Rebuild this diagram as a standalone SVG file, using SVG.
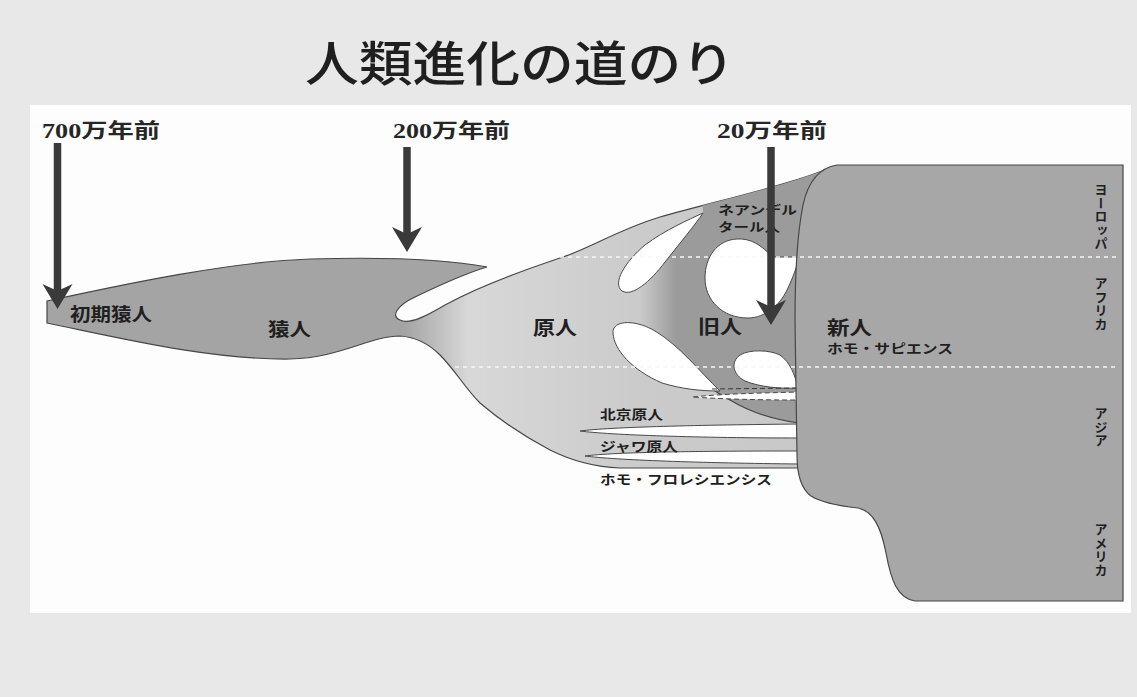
<svg xmlns="http://www.w3.org/2000/svg" xmlns:xlink="http://www.w3.org/1999/xlink" width="1137" height="697" viewBox="0 0 1137 697">
<style>
.edge{stroke:#474747;stroke-width:1.2}
.hole{fill:#ffffff;stroke:#4a4a4a;stroke-width:1}
.lbl{font-family:"Noto Sans CJK JP","Noto Sans",sans-serif;font-weight:700;fill:#1f1f1f}
.era{font-family:"Liberation Serif","Noto Sans CJK JP",serif;font-weight:700;fill:#262626;font-size:20px}
.dot{stroke:#f6f6f6;stroke-width:1.6;stroke-dasharray:4 4;fill:none}
.vert{writing-mode:vertical-rl;font-size:13px;letter-spacing:0.5px}
.shaft{stroke:#3a3a3a;stroke-width:7.5;fill:none;marker-end:url(#ah)}
</style>
<defs>
<linearGradient id="gBody" gradientUnits="userSpaceOnUse" x1="45" y1="0" x2="845" y2="0">
<stop offset="0" stop-color="#a4a4a4"/>
<stop offset="0.45" stop-color="#a4a4a4"/>
<stop offset="0.53" stop-color="#d8d8d8"/>
<stop offset="0.74" stop-color="#cbcbcb"/>
<stop offset="1" stop-color="#c8c8c8"/>
</linearGradient>
<linearGradient id="gDark" gradientUnits="userSpaceOnUse" x1="640" y1="0" x2="676" y2="0">
<stop offset="0" stop-color="#cbcbcb"/>
<stop offset="1" stop-color="#9b9b9b"/>
</linearGradient>
<path id="bodyShape" d="M47,301 C130,283 230,262 310,259 C380,257 440,258 487,267 C470,272 440,285 415,297 C398,305 390,316 400,320 C410,325 428,315 445,305 C478,287 530,268 563,257 C590,248 620,229 660,217 C720,200 790,185 835,166 L845,166 L845,468 L620,468 C595,467 570,460 550,450 C525,437 500,420 480,403 C465,388 455,370 440,355 C428,343 415,337 400,336 C370,336 340,358 290,359 C210,360 120,338 47,323 Z"/>
<clipPath id="bodyClip"><use xlink:href="#bodyShape"/></clipPath>
<marker id="ah" markerUnits="userSpaceOnUse" markerWidth="26" markerHeight="32" viewBox="0 -16 26 32" refX="7" refY="0" orient="auto">
<path d="M0,-15 L25,0 L0,15 L7,0 Z" fill="#3a3a3a"/>
</marker>
</defs>

<rect x="0" y="0" width="1137" height="697" fill="#e8e8e8"/>
<rect x="30" y="105" width="1101" height="508" fill="#fdfdfd"/>

<text x="305" y="81" font-family="Noto Sans CJK JP, sans-serif" font-weight="500" font-size="48" fill="#1f1f1f" textLength="430" lengthAdjust="spacingAndGlyphs">人類進化の道のり</text>

<g id="ape-erectus">
<use xlink:href="#bodyShape" fill="url(#gBody)"/>
<path clip-path="url(#bodyClip)" fill="#a4a4a4" d="M370,240 L495,240 L495,268 L487,267 C470,272 440,285 415,297 C404,302 396,308 394,314 L370,316 Z"/>
<use xlink:href="#bodyShape" fill="none" class="edge"/>
</g>

<g id="neanderthal">
<path clip-path="url(#bodyClip)" fill="url(#gDark)" d="M700,150 L703,213 L628,290 L628,338 L655,338 C675,352 700,385 730,400 C750,412 775,420 800,423 L850,425 L850,150 Z"/>
<path d="M655,338 C675,352 700,385 730,400 C750,412 775,420 800,423" fill="none" class="edge"/>
</g>

<g id="gaps">
<path class="hole" d="M703,213 C688,220 665,230 645,245 C625,262 612,283 622,291 C632,297 650,282 665,262 C680,243 695,225 703,213 Z"/>
<path class="hole" d="M720,391 C700,372 680,346 655,331 C635,319 612,320 613,333 C614,350 632,370 662,383 C682,389 700,391 720,391 Z"/>
<path class="hole" d="M800,257 L772,257 C762,245 750,238 737,239 C717,240 705,257 705,278 C705,300 722,318 748,318 C765,318 780,305 787,290 C793,278 797,265 800,257 Z"/>
<path class="hole" d="M798,388 C795,375 790,362 780,355 C770,350 750,349 740,355 C730,362 733,375 745,381 C760,387 780,389 798,388 Z"/>
<path d="M712,389 L800,388" fill="none" stroke="#3a3a3a" stroke-width="1" stroke-dasharray="5 3"/>
<path d="M693,397 C720,394 760,393 800,392 L800,400 C760,400 720,399 693,397 Z" fill="#ffffff" stroke="#3a3a3a" stroke-width="0.9" stroke-dasharray="5 3"/>
<path class="hole" d="M580,431 C610,427 700,425 800,424 L800,438 C700,438 610,435 580,431 Z"/>
<path class="hole" d="M585,456 C615,452 700,451 800,451 L800,464 C700,463 615,460 585,456 Z"/>
</g>

<g id="sapiens">
<path class="edge" fill="#a7a7a7" d="M837,165 L1123,165 L1123,601 L915,601 C897,598 891,580 886,553 C881,527 873,511 858,508 C840,506 822,503 811,496 C800,488 797,472 797,455 L795,320 C795,280 797,235 803,205 C808,182 818,168 837,165 Z"/>
</g>

<g id="region-lines">
<path class="dot" d="M560,257 L1116,257"/>
<path class="dot" d="M455,367 L1116,367"/>
</g>

<g id="labels">
<text class="lbl" x="70" y="321" font-size="18" textLength="82" lengthAdjust="spacingAndGlyphs">初期猿人</text>
<text class="lbl" x="268" y="336" font-size="18" textLength="43" lengthAdjust="spacingAndGlyphs">猿人</text>
<text class="lbl" x="533" y="335" font-size="19" textLength="44" lengthAdjust="spacingAndGlyphs">原人</text>
<text class="lbl" x="698" y="334" font-size="19" textLength="44" lengthAdjust="spacingAndGlyphs">旧人</text>
<text class="lbl" x="827" y="335" font-size="19" textLength="45" lengthAdjust="spacingAndGlyphs">新人</text>
<text class="lbl" x="827" y="353" font-size="13" textLength="126" lengthAdjust="spacingAndGlyphs">ホモ・サピエンス</text>
<text class="lbl" x="718" y="215" font-size="12" textLength="79" lengthAdjust="spacingAndGlyphs">ネアンデル</text>
<text class="lbl" x="718" y="232" font-size="12" textLength="62" lengthAdjust="spacingAndGlyphs">タール人</text>
<text class="lbl" x="600" y="419" font-size="13" textLength="63" lengthAdjust="spacingAndGlyphs">北京原人</text>
<text class="lbl" x="600" y="451" font-size="13" textLength="78" lengthAdjust="spacingAndGlyphs">ジャワ原人</text>
<text class="lbl" x="600" y="484" font-size="13" textLength="172" lengthAdjust="spacingAndGlyphs">ホモ・フロレシエンシス</text>
<text class="lbl vert" x="1101" y="183">ヨーロッパ</text>
<text class="lbl vert" x="1101" y="277">アフリカ</text>
<text class="lbl vert" x="1101" y="407">アジア</text>
<text class="lbl vert" x="1101" y="523">アメリカ</text>
</g>

<g id="eras">
<text class="era" x="42" y="138" textLength="118" lengthAdjust="spacingAndGlyphs">700万年前</text>
<text class="era" x="393" y="138" textLength="117" lengthAdjust="spacingAndGlyphs">200万年前</text>
<text class="era" x="717" y="138" textLength="110" lengthAdjust="spacingAndGlyphs">20万年前</text>
</g>

<g id="connectors">
<line class="shaft" x1="57.5" y1="143" x2="57.5" y2="291"/>
<line class="shaft" x1="407" y1="147" x2="407" y2="234"/>
<line class="shaft" x1="771" y1="147" x2="771" y2="307"/>
</g>
</svg>
